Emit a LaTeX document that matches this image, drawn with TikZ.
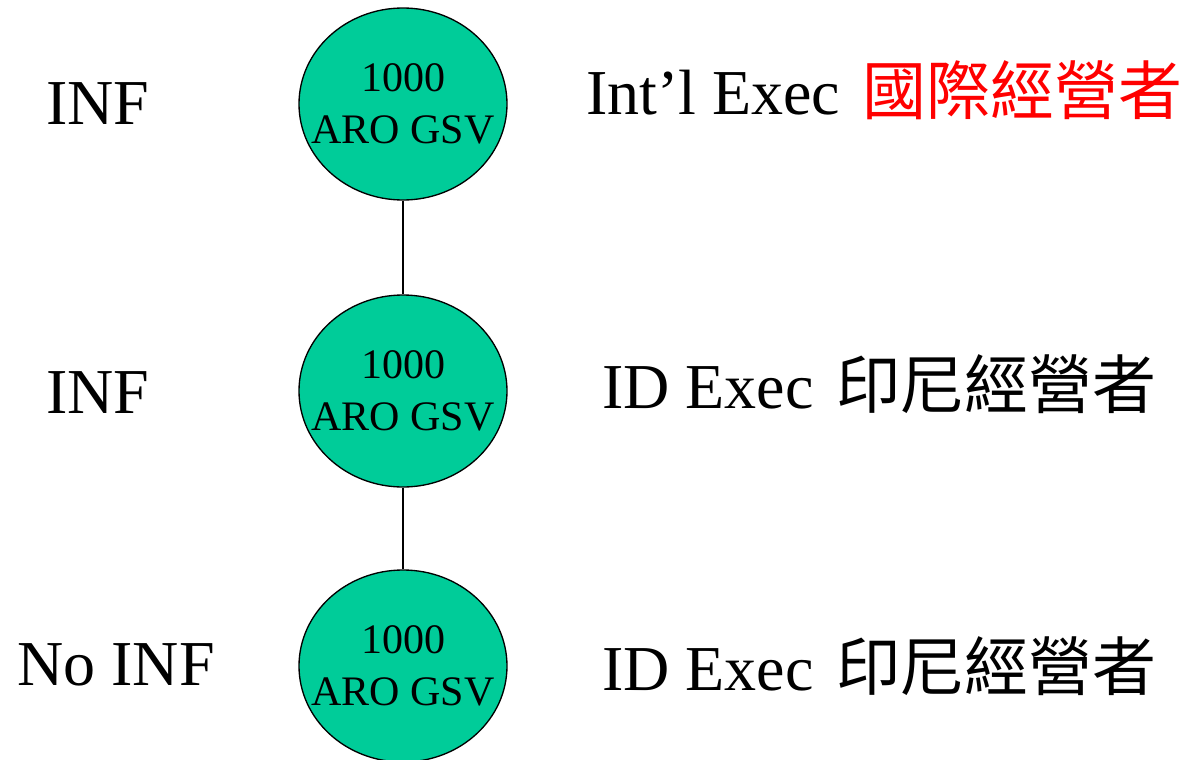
\documentclass[tikz,border=0pt]{standalone}
\usepackage{fontspec}
\setmainfont{Liberation Serif}
\newfontfamily\cjk{Noto Sans CJK TC}
\usepackage{xcolor}
\usetikzlibrary{shapes.geometric, positioning}

\definecolor{aroGreen}{RGB}{0,204,153}

\begin{document}
\begin{tikzpicture}[x=0.75pt, y=-0.75pt,
  level/.style={ellipse, draw=black, line width=1pt, fill=aroGreen,
    minimum width=156pt, minimum height=144pt, inner sep=0pt,
    label={[align=center, inner sep=0pt, font=\fontsize{31.5}{39}\selectfont]center:#1}},
  side/.style={inner sep=0pt, font=\fontsize{48}{52}\selectfont}]
\useasboundingbox (0,0) rectangle (1186,760);

% Levels
\node[level={1000\\ARO GSV}] (intl) at (403,104) {};
\node[level={1000\\ARO GSV}] (idone) at (403,391) {};
\node[level={1000\\ARO GSV}] (idtwo) at (403,666) {};

% Links
\draw[line width=0.9pt] (intl) -- (idone);
\draw[line width=0.9pt] (idone) -- (idtwo);

% Left labels
\node[side, anchor=base] (infa) at (98,124) {INF};
\node[side, anchor=base] (infb) at (98,413) {INF};
\node[side, anchor=base] (noinf) at (116,685) {No INF};

% Right labels
\node[side, anchor=base west] (execa) at (586,114) {Int'l Exec\hspace{0.1em} {\cjk\color{red}國際經營者}};
\node[side, anchor=base west] (execb) at (602,408) {ID Exec\hspace{0.1em} {\cjk 印尼經營者}};
\node[side, anchor=base west] (execc) at (602,690) {ID Exec\hspace{0.1em} {\cjk 印尼經營者}};
\end{tikzpicture}
\end{document}
